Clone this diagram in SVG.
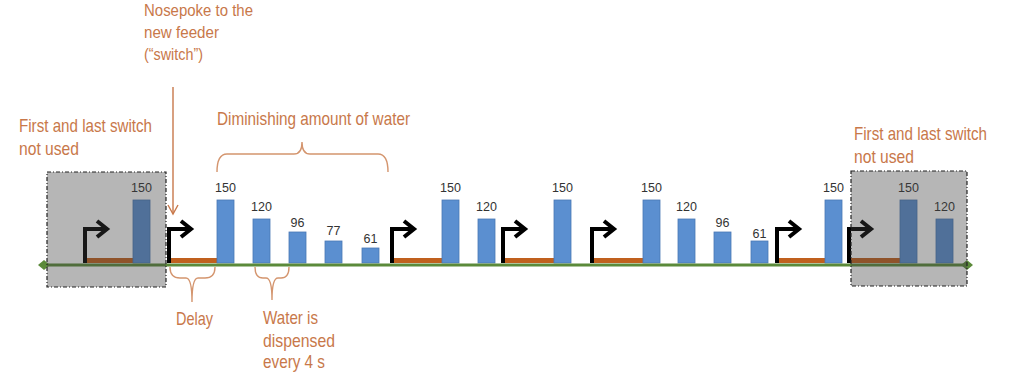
<svg xmlns="http://www.w3.org/2000/svg" width="1030" height="375" viewBox="0 0 1030 375">
<defs>
<style>
.lbl{font-family:"Liberation Sans",Arial,sans-serif;fill:#c8784a;font-size:19px}
.sm{font-size:17px}
.num{font-family:"Liberation Sans",Arial,sans-serif;fill:#333;font-size:12.5px;text-anchor:middle}
.bar{fill:#5b8fd0;stroke:#4a78b4;stroke-width:0.8}
.delay{fill:#c0601e}
.sw{fill:none;stroke:#000;stroke-width:4;stroke-linejoin:miter}
.brace{fill:none;stroke:#d4956e;stroke-width:1.4}
.box{fill:#404040;fill-opacity:0.38;stroke:#222;stroke-width:1.2;stroke-dasharray:4 2 1 2}
</style>
<marker id="ah" markerWidth="12" markerHeight="12" refX="10" refY="6" orient="auto" markerUnits="userSpaceOnUse">
<path d="M1,1 L10,6 L1,11" fill="none" stroke="#c8784a" stroke-width="1.4"/>
</marker>
<g id="switchArrow">
<path d="M0,263 V229 H22" class="sw"/>
<path d="M12,221 L22,229 L12,237" class="sw"/>
</g>
</defs>
<rect width="1030" height="375" fill="#fff"/>

<g id="delays">
<rect class="delay" x="85" y="258" width="48" height="5"/>
<rect class="delay" x="169" y="258" width="48" height="5"/>
<rect class="delay" x="392" y="258" width="50" height="5"/>
<rect class="delay" x="503" y="258" width="51" height="5"/>
<rect class="delay" x="592" y="258" width="51" height="5"/>
<rect class="delay" x="777" y="258" width="48" height="5"/>
<rect class="delay" x="849" y="258" width="51" height="5"/>
</g>

<g id="bars">
<rect class="bar" x="133" y="200" width="17" height="63"/><text class="num" x="141.5" y="192">150</text>
<rect class="bar" x="217" y="200" width="17" height="63"/><text class="num" x="225.5" y="192">150</text>
<rect class="bar" x="253" y="219" width="17" height="44"/><text class="num" x="261.5" y="211">120</text>
<rect class="bar" x="289" y="232" width="17" height="31"/><text class="num" x="297.5" y="227">96</text>
<rect class="bar" x="325" y="241" width="17" height="22"/><text class="num" x="333.5" y="235">77</text>
<rect class="bar" x="362" y="248" width="17" height="15"/><text class="num" x="370.5" y="243">61</text>
<rect class="bar" x="442" y="200" width="17" height="63"/><text class="num" x="450.5" y="192">150</text>
<rect class="bar" x="478" y="219" width="17" height="44"/><text class="num" x="486.5" y="211">120</text>
<rect class="bar" x="554" y="200" width="17" height="63"/><text class="num" x="562.5" y="192">150</text>
<rect class="bar" x="643" y="200" width="17" height="63"/><text class="num" x="651.5" y="192">150</text>
<rect class="bar" x="678" y="219" width="17" height="44"/><text class="num" x="686.5" y="211">120</text>
<rect class="bar" x="714" y="232" width="17" height="31"/><text class="num" x="722.5" y="227">96</text>
<rect class="bar" x="751" y="241" width="17" height="22"/><text class="num" x="759.5" y="238">61</text>
<rect class="bar" x="825" y="200" width="17" height="63"/><text class="num" x="833.5" y="192">150</text>
<rect class="bar" x="900" y="200" width="17" height="63"/><text class="num" x="908.5" y="192">150</text>
<rect class="bar" x="936" y="219" width="17" height="44"/><text class="num" x="944.5" y="211">120</text>
</g>

<g id="switches">
<use href="#switchArrow" x="85"/>
<use href="#switchArrow" x="169"/>
<use href="#switchArrow" x="392"/>
<use href="#switchArrow" x="503"/>
<use href="#switchArrow" x="592"/>
<use href="#switchArrow" x="777"/>
<use href="#switchArrow" x="849"/>
</g>

<g id="timeline">
<line x1="44" y1="265" x2="967" y2="265" stroke="#5b8a3a" stroke-width="3"/>
<path d="M38,265 L44,260 L50,265 L44,270 Z" fill="#5b8a3a"/>
<path d="M961,265 L967,260 L973,265 L967,270 Z" fill="#5b8a3a"/>
</g>

<g id="box-left"><rect class="box" x="47" y="172" width="119" height="115"/></g>
<g id="box-right"><rect class="box" x="851" y="171" width="116" height="115"/></g>

<g id="connectors">
<line x1="173" y1="87" x2="173" y2="214" stroke="#c8784a" stroke-width="1.4" marker-end="url(#ah)"/>
<path class="brace" d="M217,172 Q217,154 227,154 L294,154 Q302,154 302,142 Q302,154 310,154 L378,154 Q388,154 388,172"/>
<path class="brace" d="M170,267 Q170,278 180,278 L186,278 Q192,278 192,302 Q192,278 198,278 L205,278 Q215,278 215,267"/>
<path class="brace" d="M255,267 Q255,278 263,278 L266,278 Q272,278 272,300 Q272,278 278,278 L281,278 Q289,278 289,267"/>
</g>

<g id="label-nosepoke">
<text class="lbl sm" x="144" y="16" textLength="109" lengthAdjust="spacingAndGlyphs">Nosepoke to the</text>
<text class="lbl sm" x="144" y="38" textLength="75" lengthAdjust="spacingAndGlyphs">new feeder</text>
<text class="lbl sm" x="144" y="60" textLength="59" lengthAdjust="spacingAndGlyphs">(“switch”)</text>
</g>
<g id="label-first-left">
<text class="lbl" x="19" y="132" textLength="133" lengthAdjust="spacingAndGlyphs">First and last switch</text>
<text class="lbl" x="19" y="155" textLength="60" lengthAdjust="spacingAndGlyphs">not used</text>
</g>
<g id="label-first-right">
<text class="lbl" x="854" y="140" textLength="133" lengthAdjust="spacingAndGlyphs">First and last switch</text>
<text class="lbl" x="854" y="163" textLength="60" lengthAdjust="spacingAndGlyphs">not used</text>
</g>
<g id="label-diminishing">
<text class="lbl" x="217" y="125" textLength="193" lengthAdjust="spacingAndGlyphs">Diminishing amount of water</text>
</g>
<g id="label-delay">
<text class="lbl" x="176" y="325" textLength="37" lengthAdjust="spacingAndGlyphs">Delay</text>
</g>
<g id="label-water">
<text class="lbl" x="263" y="324" textLength="55" lengthAdjust="spacingAndGlyphs">Water is</text>
<text class="lbl" x="263" y="347" textLength="72" lengthAdjust="spacingAndGlyphs">dispensed</text>
<text class="lbl" x="263" y="368" textLength="62" lengthAdjust="spacingAndGlyphs">every 4 s</text>
</g>
</svg>
